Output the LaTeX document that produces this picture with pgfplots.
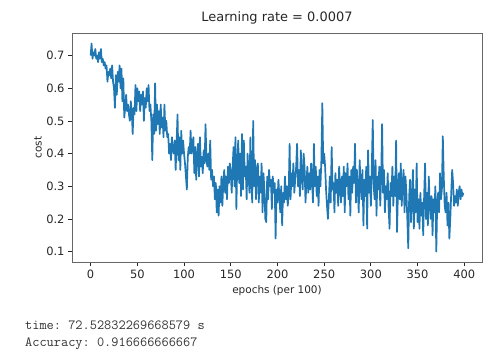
\documentclass[border=0pt]{standalone}
\usepackage{pgfplots}
\usepackage{pgfplotstable}
\pgfplotsset{compat=1.18}
\usepackage{fontspec}
\setmainfont{DejaVu Sans}
\setmonofont{Latin Modern Mono}
\definecolor{mplblue}{HTML}{1F77B4}
\definecolor{txt}{HTML}{262626}

\pgfplotstableread{
y
0.70
0.737
0.69
0.71
0.70
0.72
0.69
0.70
0.68
0.71
0.69
0.72
0.68
0.69
0.67
0.68
0.66
0.67
0.62
0.65
0.64
0.66
0.63
0.67
0.62
0.60
0.54
0.64
0.58
0.65
0.62
0.67
0.60
0.66
0.56
0.63
0.51
0.54
0.58
0.53
0.55
0.52
0.50
0.56
0.53
0.46
0.54
0.52
0.61
0.53
0.60
0.56
0.59
0.53
0.58
0.55
0.59
0.50
0.57
0.54
0.60
0.56
0.61
0.53
0.55
0.50
0.38
0.52
0.46
0.615
0.47
0.55
0.49
0.53
0.46
0.55
0.48
0.51
0.45
0.55
0.47
0.50
0.45
0.46
0.40
0.43
0.38
0.45
0.41
0.40
0.44
0.35
0.43
0.52
0.38
0.45
0.35
0.47
0.40
0.44
0.40
0.37
0.33
0.29
0.39
0.42
0.40
0.47
0.40
0.43
0.45
0.34
0.42
0.32
0.40
0.43
0.33
0.45
0.36
0.39
0.34
0.41
0.37
0.49
0.38
0.36
0.40
0.35
0.44
0.32
0.35
0.30
0.33
0.26
0.31
0.22
0.29
0.21
0.30
0.25
0.33
0.24
0.31
0.35
0.28
0.33
0.26
0.36
0.31
0.37
0.34
0.28
0.36
0.42
0.30
0.45
0.23
0.38
0.44
0.31
0.40
0.27
0.46
0.29
0.44
0.33
0.36
0.26
0.40
0.34
0.28
0.45
0.31
0.25
0.50
0.30
0.38
0.26
0.35
0.37
0.25
0.33
0.28
0.37
0.22
0.34
0.29
0.20
0.19
0.33
0.26
0.35
0.30
0.32
0.23
0.33
0.28
0.31
0.14
0.29
0.25
0.32
0.27
0.22
0.30
0.18
0.28
0.25
0.33
0.26
0.30
0.24
0.28
0.43
0.26
0.34
0.30
0.37
0.28
0.32
0.36
0.43
0.30
0.35
0.27
0.41
0.33
0.29
0.40
0.36
0.25
0.31
0.36
0.28
0.34
0.29
0.37
0.32
0.25
0.43
0.30
0.36
0.27
0.33
0.24
0.35
0.30
0.38
0.554
0.37
0.40
0.36
0.29
0.24
0.20
0.26
0.33
0.25
0.42
0.29
0.31
0.22
0.34
0.28
0.32
0.24
0.36
0.30
0.25
0.33
0.27
0.36
0.22
0.34
0.30
0.37
0.26
0.33
0.21
0.35
0.28
0.36
0.31
0.43
0.25
0.35
0.29
0.22
0.38
0.30
0.26
0.35
0.18
0.32
0.27
0.36
0.17
0.41
0.28
0.33
0.24
0.36
0.503
0.30
0.26
0.38
0.21
0.33
0.29
0.36
0.24
0.33
0.49
0.28
0.35
0.22
0.30
0.26
0.34
0.23
0.17
0.31
0.27
0.36
0.24
0.33
0.27
0.44
0.16
0.29
0.34
0.26
0.37
0.24
0.31
0.35
0.22
0.33
0.28
0.20
0.11
0.27
0.32
0.19
0.26
0.35
0.17
0.29
0.22
0.37
0.19
0.26
0.17
0.28
0.21
0.25
0.15
0.27
0.37
0.20
0.28
0.18
0.33
0.24
0.20
0.27
0.15
0.26
0.22
0.30
0.10
0.25
0.28
0.22
0.34
0.26
0.29
0.453
0.33
0.24
0.22
0.28
0.18
0.25
0.14
0.20
0.28
0.35
0.31
0.24
0.27
0.25
0.29
0.24
0.28
0.30
0.26
0.29
0.27
0.28
}\costdata

\begin{document}
\begin{tikzpicture}[x=1bp,y=1bp]
\useasboundingbox (0,0) rectangle (500,362);
\begin{axis}[
  at={(72bp,100bp)}, anchor=south west,
  scale only axis, width=410bp, height=229bp,
  xmin=-19.95, xmax=418.95, ymin=0.0682, ymax=0.769,
  xtick={0,50,...,400},
  ytick={0.1,0.2,0.3,0.4,0.5,0.6,0.7},
  yticklabel style={/pgf/number format/.cd,fixed,fixed zerofill,precision=1},
  /pgf/number format/assume math mode=true,
  tick label style={font=\fontsize{11.5}{13}\selectfont, text=txt},
  tick align=outside, xtick pos=bottom, ytick pos=left,
  major tick length=4bp,
  every tick/.style={txt, line width=0.8pt},
  axis line style={gray!80!black, line width=0.9pt},
  title={Learning rate = 0.0007},
  title style={font=\fontsize{13}{15}\selectfont, text=txt, at={(0.5,1)}, anchor=base, yshift=6bp},
  xlabel={epochs (per 100)},
  ylabel={cost},
  label style={font=\fontsize{10.5}{12}\selectfont, text=txt},
  xlabel style={at={(0.5,0)}, anchor=base, yshift=-31bp},
  ylabel style={at={(0,0.5)}, anchor=center, yshift=34bp},
  clip=true,
]
\addplot[mplblue, line width=1.7pt, line join=round] table[x expr=\coordindex, y=y] {\costdata};
\end{axis}
\node[anchor=base west, font=\ttfamily\fontsize{14}{16}\selectfont, text=black!80, inner sep=0pt] at (25,33) {time: 72.52832269668579 s};
\node[anchor=base west, font=\ttfamily\fontsize{14}{16}\selectfont, text=black!80, inner sep=0pt] at (25,16) {Accuracy: 0.916666666667};
\end{tikzpicture}
\end{document}
